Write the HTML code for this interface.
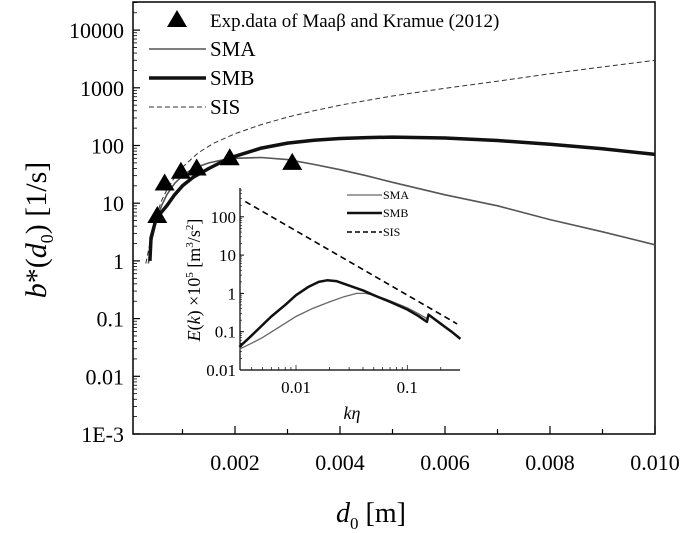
<!DOCTYPE html>
<html><head><meta charset="utf-8"><style>
html,body{margin:0;padding:0;background:#fff;}
svg{display:block;font-family:"Liberation Serif",serif;}
</style></head><body>
<svg id="c" width="685" height="533" viewBox="0 0 685 533" xmlns="http://www.w3.org/2000/svg"></svg>
<script>
// Main chart data
const xTicks = [0.002, 0.004, 0.006, 0.008, 0.010];
const xTickLabels = ["0.002", "0.004", "0.006", "0.008", "0.010"];
const yTicks = [0.001, 0.01, 0.1, 1, 10, 100, 1000, 10000];
const yTickLabels = ["1E-3", "0.01", "0.1", "1", "10", "100", "1000", "10000"];
const expX = [0.00052, 0.00066, 0.00097, 0.00127, 0.0019, 0.00309];
const expY = [6, 22, 35, 40, 60, 50];
const smaX = [0.00035, 0.0004, 0.0005, 0.0006, 0.0007, 0.00085, 0.001, 0.0012, 0.0015, 0.0018, 0.002, 0.0025, 0.003, 0.0035, 0.004, 0.0045, 0.005, 0.006, 0.007, 0.008, 0.009, 0.010];
const smaY = [0.9, 2, 5, 9, 14, 22, 30, 40, 50, 57, 60, 62, 57, 47, 38, 30, 23, 14, 9, 5.2, 3.2, 1.9];
const smbX = [0.00038, 0.0004, 0.0005, 0.0006, 0.0007, 0.00085, 0.001, 0.0012, 0.0015, 0.0018, 0.002, 0.0025, 0.003, 0.0035, 0.004, 0.0045, 0.005, 0.006, 0.007, 0.008, 0.009, 0.010];
const smbY = [1, 2.5, 5.5, 7, 9, 14, 20, 28, 40, 55, 65, 90, 110, 123, 132, 137, 140, 135, 122, 105, 88, 70];
const sisX = [0.0003, 0.0004, 0.0005, 0.0006, 0.0007, 0.00085, 0.001, 0.0013, 0.0016, 0.002, 0.0025, 0.003, 0.0035, 0.004, 0.005, 0.006, 0.007, 0.008, 0.009, 0.010];
const sisY = [0.9, 2.5, 6, 11, 17, 28, 42, 75, 110, 160, 230, 310, 400, 500, 720, 980, 1300, 1750, 2300, 3000];
// Inset data
const inXTicks = [0.01, 0.1];
const inXTickLabels = ["0.01", "0.1"];
const inYTicks = [0.01, 0.1, 1, 10, 100];
const inYTickLabels = ["0.01", "0.1", "1", "10", "100"];
const inSmaX = [0.0031, 0.004, 0.005, 0.007, 0.01, 0.014, 0.02, 0.027, 0.035, 0.042, 0.05, 0.065, 0.08, 0.1, 0.125, 0.15, 0.155, 0.2, 0.25, 0.3];
const inSmaY = [0.035, 0.05, 0.07, 0.13, 0.25, 0.4, 0.6, 0.82, 1.0, 1.0, 0.9, 0.7, 0.55, 0.42, 0.3, 0.22, 0.29, 0.17, 0.1, 0.065];
const inSmbX = [0.0031, 0.004, 0.005, 0.006, 0.008, 0.01, 0.013, 0.016, 0.019, 0.023, 0.03, 0.04, 0.05, 0.07, 0.1, 0.125, 0.15, 0.155, 0.2, 0.25, 0.3];
const inSmbY = [0.04, 0.08, 0.15, 0.25, 0.5, 0.9, 1.5, 2.0, 2.2, 2.1, 1.6, 1.2, 0.9, 0.6, 0.38, 0.26, 0.18, 0.28, 0.16, 0.1, 0.065];
const inSisX = [0.0035, 0.28];
const inSisY = [250, 0.16];

const NS = "http://www.w3.org/2000/svg";
const svg = document.getElementById("c");
function el(tag, attrs, parent) {
  const e = document.createElementNS(NS, tag);
  for (const k in attrs) e.setAttribute(k, attrs[k]);
  (parent || svg).appendChild(e);
  return e;
}
const L = 133, R = 655, T = 2, B = 434;
const xScale = v => 130 + v * 52500;
const yScale = v => 434 - (Math.log10(v) + 3) * 57.7;
const iL = 240, iR = 460, iT = 188, iB = 370;
const ixScale = v => 296 + (Math.log10(v) + 2) * 111.3;
const iyScale = v => 370 - (Math.log10(v) + 2) * 38.3;

function path(xs, ys, fx, fy) {
  return xs.map((x, i) => (i ? "L" : "M") + fx(x).toFixed(1) + " " + fy(ys[i]).toFixed(1)).join(" ");
}

let f = el("rect", {x: L, y: T, width: R - L, height: B - T, fill: "none", stroke: "#000", "stroke-width": 1.5});



for (let k = 1; k <= 10; k++) {
  const x = xScale(k * 0.001);
  const major = k % 2 === 0;
  el("line", {x1: x, x2: x, y1: B, y2: B - (major ? 8 : 5), stroke: "#000", "stroke-width": 1.2});
}
xTicks.forEach((v, i) => {
  const t = el("text", {x: xScale(v), y: 470, "font-size": 22, "text-anchor": "middle"});
  t.textContent = xTickLabels[i];
  
  
});
yTicks.forEach((v, i) => {
  const y = yScale(v);
  el("line", {x1: L, x2: L + 7, y1: y, y2: y, stroke: "#000", "stroke-width": 1.2});
  for (let m = 2; m <= 9; m++) {
    const ym = yScale(v * m);
    if (ym > T) el("line", {x1: L, x2: L + 4, y1: ym, y2: ym, stroke: "#000", "stroke-width": 0.8});
  }
  const t = el("text", {x: 124, y: y + 8, "font-size": 22, "text-anchor": "end"});
  t.textContent = yTickLabels[i];
  
  
});

let p = el("path", {d: path(sisX, sisY, xScale, yScale), fill: "none", stroke: "#333", "stroke-width": 1, "stroke-dasharray": "5,3"});


p = el("path", {d: path(smaX, smaY, xScale, yScale), fill: "none", stroke: "#555", "stroke-width": 1.6});


p = el("path", {d: path(smbX, smbY, xScale, yScale), fill: "none", stroke: "#111", "stroke-width": 3.5, "stroke-linejoin": "round"});


expX.forEach((v, i) => {
  const x = xScale(v), y = yScale(expY[i]);
  const tr = el("polygon", {points: `${x},${y - 10} ${x - 10},${y + 7} ${x + 10},${y + 7}`, fill: "#000"});
  
  
});

const lg = el("g", {});


el("polygon", {points: "177,10 167,27 187,27", fill: "#000"}, lg);
let t = el("text", {x: 210, y: 27, "font-size": 19}, lg); t.textContent = "Exp.data of Maaβ  and Kramue (2012)";
el("line", {x1: 149, x2: 206, y1: 49, y2: 49, stroke: "#555", "stroke-width": 1.6}, lg);
t = el("text", {x: 210, y: 56, "font-size": 21}, lg); t.textContent = "SMA";
el("line", {x1: 149, x2: 206, y1: 78, y2: 78, stroke: "#111", "stroke-width": 3.5}, lg);
t = el("text", {x: 210, y: 85, "font-size": 21}, lg); t.textContent = "SMB";
el("line", {x1: 149, x2: 206, y1: 107, y2: 107, stroke: "#333", "stroke-width": 1, "stroke-dasharray": "5,3"}, lg);
t = el("text", {x: 210, y: 114, "font-size": 21}, lg); t.textContent = "SIS";

t = el("text", {x: 371, y: 522, "font-size": 28, "text-anchor": "middle"});


t.innerHTML = '<tspan font-style="italic">d</tspan><tspan font-size="17" dy="7">0</tspan><tspan dy="-7"> [m]</tspan>';
t = el("text", {x: 0, y: 0, "font-size": 30, "text-anchor": "middle", transform: "translate(46,230) rotate(-90)"});


t.innerHTML = '<tspan font-style="italic">b</tspan>*(<tspan font-style="italic">d</tspan><tspan font-size="18" dy="7">0</tspan><tspan dy="-7">) [1/s]</tspan>';

const ig = el("g", {});


el("line", {x1: iL, x2: iL, y1: iT, y2: iB, stroke: "#000", "stroke-width": 1.2}, ig);
el("line", {x1: iL, x2: iR, y1: iB, y2: iB, stroke: "#000", "stroke-width": 1.2}, ig);
inYTicks.forEach((v, i) => {
  const y = iyScale(v);
  el("line", {x1: iL, x2: iL + 4, y1: y, y2: y, stroke: "#000"}, ig);
  for (let m = 2; m <= 9; m++) {
    const ym = iyScale(v * m);
    if (ym > iT) el("line", {x1: iL, x2: iL + 2, y1: ym, y2: ym, stroke: "#000", "stroke-width": 0.6}, ig);
  }
  const tt = el("text", {x: iL - 4, y: y + 6, "font-size": 17, "text-anchor": "end"}, ig);
  tt.textContent = inYTickLabels[i];
  
  
});
[0.001, 0.01, 0.1].forEach(d => {
  for (let m = 1; m <= 9; m++) {
    const x = ixScale(d * m);
    if (x >= iL && x <= iR) el("line", {x1: x, x2: x, y1: iB, y2: iB - (m === 1 ? 5 : 3), stroke: "#000", "stroke-width": 0.7}, ig);
  }
});
inXTicks.forEach((v, i) => {
  const tt = el("text", {x: ixScale(v), y: 393, "font-size": 17, "text-anchor": "middle"}, ig);
  tt.textContent = inXTickLabels[i];
  
  
});
t = el("text", {x: 352, y: 419, "font-size": 18, "font-style": "italic", "text-anchor": "middle"}, ig);
t.textContent = "kη";


t = el("text", {x: 0, y: 0, "font-size": 18, "text-anchor": "middle", transform: "translate(200,280) rotate(-90)"}, ig);
t.innerHTML = '<tspan font-style="italic">E</tspan>(<tspan font-style="italic">k</tspan>) ×10<tspan font-size="11" dy="-7">5</tspan><tspan dy="7">  [m</tspan><tspan font-size="11" dy="-7">3</tspan><tspan dy="7">/s</tspan><tspan font-size="11" dy="-7">2</tspan><tspan dy="7">]</tspan>';


p = el("path", {d: path(inSisX, inSisY, ixScale, iyScale), fill: "none", stroke: "#000", "stroke-width": 1.6, "stroke-dasharray": "6,4"}, ig);


p = el("path", {d: path(inSmaX, inSmaY, ixScale, iyScale), fill: "none", stroke: "#666", "stroke-width": 1.3}, ig);


p = el("path", {d: path(inSmbX, inSmbY, ixScale, iyScale), fill: "none", stroke: "#111", "stroke-width": 2.5, "stroke-linejoin": "round"}, ig);


const il = el("g", {}, ig);


el("line", {x1: 347, x2: 382, y1: 195, y2: 195, stroke: "#666", "stroke-width": 1.3}, il);
t = el("text", {x: 383, y: 199, "font-size": 12}, il); t.textContent = "SMA";
el("line", {x1: 347, x2: 382, y1: 213, y2: 213, stroke: "#111", "stroke-width": 2.5}, il);
t = el("text", {x: 383, y: 217, "font-size": 12}, il); t.textContent = "SMB";
el("line", {x1: 347, x2: 382, y1: 232, y2: 232, stroke: "#000", "stroke-width": 1.6, "stroke-dasharray": "5,3"}, il);
t = el("text", {x: 383, y: 236, "font-size": 12}, il); t.textContent = "SIS";
</script>
</body></html>
